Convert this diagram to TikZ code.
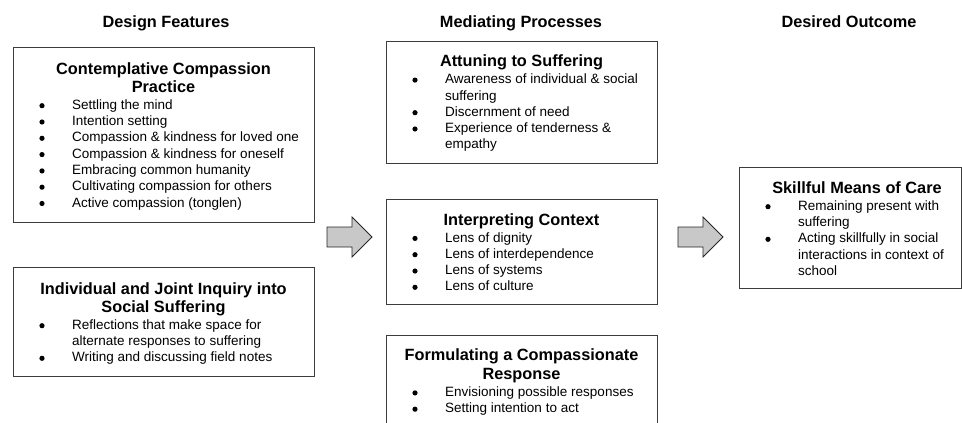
\documentclass[tikz,border=0pt]{standalone}
\usepackage{fontspec}
\setmainfont{Liberation Sans}
\definecolor{arrowgray}{RGB}{200,200,200}
\definecolor{framegray}{RGB}{60,60,60}

% #1 name prefix, #2 left edge of the box, #3 list of baseline/bullet flag/text
\newcommand{\itemlines}[3]{%
  \foreach \yy/\flag/\txt [count=\k] in {#3} {
    \node[itemtext] (#1-\k) at (#2+59,\yy) {\txt};
    \ifnum\flag=1 \node[dot] (#1-d\k) at (#2+29,\yy-3.6) {};\fi
  }%
}

\begin{document}
\begin{tikzpicture}[x=1pt,y=-1pt,
  box/.style={draw=framegray, line width=1pt, anchor=north west, inner sep=0pt},
  headtext/.style={font=\fontsize{16.3}{19}\selectfont\bfseries, anchor=base, inner sep=0pt},
  titletext/.style={font=\fontsize{16.3}{19}\selectfont\bfseries, anchor=base, inner sep=0pt},
  itemtext/.style={font=\fontsize{13.5}{16}\selectfont, anchor=base west, inner sep=0pt},
  dot/.style={circle, fill=black, inner sep=0pt, minimum size=5.2pt},
  bigarrow/.style={draw=black!85, line width=0.8pt, fill=arrowgray, line join=miter}]

\useasboundingbox (0,0) rectangle (962,423);
\clip (0,0) rectangle (962,423);

% column headings
\node[headtext] (hdesign) at (166,27.5) {Design Features};
\node[headtext] (hmediate) at (521,27.5) {Mediating Processes};
\node[headtext] (houtcome) at (849,27.5) {Desired Outcome};

% design features
\node[box, minimum width=301pt, minimum height=175pt] (practice) at (13,47) {};
\node[titletext] (practice-t1) at (163.5,74) {Contemplative Compassion};
\node[titletext] (practice-t2) at (163.5,92.3) {Practice};
\itemlines{practice}{13}{109.3/1/{Settling the mind},
  125.6/1/{Intention setting},
  141.9/1/{Compassion \& kindness for loved one},
  158.2/1/{Compassion \& kindness for oneself},
  174.5/1/{Embracing common humanity},
  190.8/1/{Cultivating compassion for others},
  207.1/1/{Active compassion (tonglen)}}

\node[box, minimum width=301pt, minimum height=109pt] (inquiry) at (13,267) {};
\node[titletext] (inquiry-t1) at (163.5,294) {Individual and Joint Inquiry into};
\node[titletext] (inquiry-t2) at (163.5,312.3) {Social Suffering};
\itemlines{inquiry}{13}{329.3/1/{Reflections that make space for},
  345.6/0/{alternate responses to suffering},
  361.9/1/{Writing and discussing field notes}}

% mediating processes
\node[box, minimum width=271pt, minimum height=122pt] (attune) at (386,41) {};
\node[titletext] (attune-t1) at (521.5,66.7) {Attuning to Suffering};
\itemlines{attune}{386}{83.7/1/{Awareness of individual \& social},
  100/0/{suffering},
  116.3/1/{Discernment of need},
  132.6/1/{Experience of tenderness \&},
  148.9/0/{empathy}}

\node[box, minimum width=271pt, minimum height=105pt] (context) at (386,199) {};
\node[titletext] (context-t1) at (521.5,225) {Interpreting Context};
\itemlines{context}{386}{242/1/{Lens of dignity},
  258.3/1/{Lens of interdependence},
  274.6/1/{Lens of systems},
  290.9/1/{Lens of culture}}

\node[box, minimum width=271pt, minimum height=110pt] (respond) at (386,335) {};
\node[titletext] (respond-t1) at (521.5,360.7) {Formulating a Compassionate};
\node[titletext] (respond-t2) at (521.5,379) {Response};
\itemlines{respond}{386}{396.5/1/{Envisioning possible responses},
  412.8/1/{Setting intention to act}}

% desired outcome
\node[box, minimum width=221.5pt, minimum height=121pt] (care) at (739,167) {};
\node[titletext] (care-t1) at (857,193.3) {Skillful Means of Care};
\itemlines{care}{739}{210.3/1/{Remaining present with},
  226.6/0/{suffering},
  242.9/1/{Acting skillfully in social},
  259.2/0/{interactions in context of},
  275.5/0/{school}}

% block arrows between the columns
\draw[bigarrow] (327,227) -- (352,227) -- (352,217) -- (372,237)
  -- (352,257) -- (352,247) -- (327,247) -- cycle;
\draw[bigarrow] (678,227) -- (703,227) -- (703,217) -- (723,237)
  -- (703,257) -- (703,247) -- (678,247) -- cycle;
\end{tikzpicture}
\end{document}
